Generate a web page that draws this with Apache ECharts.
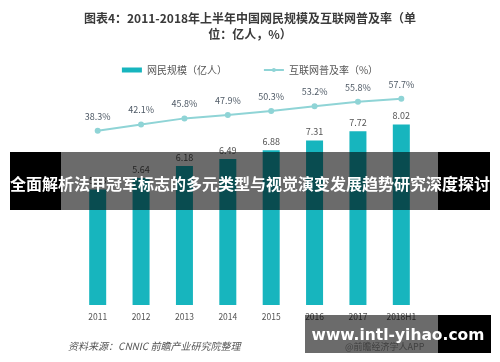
<!DOCTYPE html>
<html>
<head>
<meta charset="utf-8">
<script src="https://cdn.jsdelivr.net/npm/echarts@6/dist/echarts.min.js"></script>
<style>
html,body{margin:0;padding:0;background:#fff;}
#c{width:500px;height:362px;}
</style>
</head>
<body>
<div id="c"></div>
<script>
var categories = ['2011','2012','2013','2014','2015','2016','2017','2018H1'];
var netizens = [5.13, 5.64, 6.18, 6.49, 6.88, 7.31, 7.72, 8.02];
var penetration = [38.3, 42.1, 45.8, 47.9, 50.3, 53.2, 55.8, 57.7];
var seriesNames = ['网民规模（亿人）', '互联网普及率（%）'];
var titleText = '图表4：2011-2018年上半年中国网民规模及互联网普及率（单\n位：亿人，%）';
var bannerText = '全面解析法甲冠军标志的多元类型与视觉演变发展趋势研究深度探讨';
var siteText = 'www.intl-yihao.com';
var sourceText = '资料来源：CNNIC 前瞻产业研究院整理';
var watermarkText = '@前瞻经济学人APP';

var FONT = '"Noto Sans CJK SC", "Noto Sans", sans-serif';
var chart = echarts.init(document.getElementById('c'), null, {renderer: 'canvas'});
chart.setOption({
  backgroundColor: '#ffffff',
  animation: false,
  textStyle: {fontFamily: FONT},
  legend: {
    top: 60,
    left: 'center',
    itemGap: 36,
    itemWidth: 20,
    itemHeight: 5,
    textStyle: {fontSize: 10, color: '#555', fontFamily: FONT},
    data: [
      {name: seriesNames[0], icon: 'rect'},
      {name: seriesNames[1]}
    ]
  },
  grid: {left: 76, right: 77, top: 80, bottom: 57},
  xAxis: {
    type: 'category',
    data: categories,
    axisLine: {show: false},
    axisTick: {show: false},
    axisLabel: {fontSize: 8.5, color: '#555', margin: 8, fontFamily: FONT}
  },
  yAxis: [
    {type: 'value', min: 0, max: 10, show: false, splitLine: {show: false}},
    {type: 'value', min: -67, max: 69, show: false, splitLine: {show: false}}
  ],
  series: [
    {
      name: seriesNames[0],
      type: 'bar',
      data: netizens,
      barWidth: 17,
      itemStyle: {color: '#17b5be'},
      label: {show: true, position: 'top', distance: 4, fontSize: 9, color: '#555', fontFamily: FONT}
    },
    {
      name: seriesNames[1],
      type: 'line',
      yAxisIndex: 1,
      data: penetration,
      symbol: 'circle',
      symbolSize: 6,
      lineStyle: {color: '#8fd4d6', width: 2},
      itemStyle: {color: '#8fd4d6'},
      label: {show: true, position: 'top', distance: 7, fontSize: 9, color: '#4f5a66', fontFamily: FONT,
        formatter: function(p){ return p.value.toFixed(1) + '%'; }}
    }
  ],
  graphic: [
    {type: 'text', x: 250, y: 26, z: 50,
      style: {text: titleText, fill: '#3a3a3a', fontSize: 12, fontWeight: 'bold', fontFamily: FONT,
        lineHeight: 16, align: 'center', verticalAlign: 'middle', textAlign: 'center', textVerticalAlign: 'middle'}},
    {type: 'text', left: 68, top: 341, z: 50,
      style: {text: sourceText, fill: '#555', fontSize: 10, fontStyle: 'italic', fontFamily: FONT}},
    {type: 'text', left: 345, top: 342, z: 50,
      style: {text: watermarkText, fill: '#999', fontSize: 9, fontFamily: FONT}},
    {type: 'rect', shape: {x: 61, y: 152, width: 377, height: 58}, z: 100,
      style: {fill: 'rgba(0,0,0,0.58)'}},
    {type: 'rect', shape: {x: 10, y: 152, width: 51, height: 58}, z: 100,
      style: {fill: '#000'}},
    {type: 'rect', shape: {x: 438, y: 152, width: 52, height: 58}, z: 100,
      style: {fill: '#000'}},
    {type: 'text', x: 250, y: 184, z: 101,
      style: {text: bannerText, fill: '#fff', fontSize: 16, fontWeight: 'bold', fontFamily: FONT,
        textAlign: 'center', textVerticalAlign: 'middle', align: 'center', verticalAlign: 'middle'}},
    {type: 'rect', shape: {x: 305, y: 315, width: 133, height: 38}, z: 100,
      style: {fill: 'rgba(0,0,0,0.58)'}},
    {type: 'rect', shape: {x: 438, y: 315, width: 53, height: 38}, z: 100,
      style: {fill: '#000'}},
    {type: 'text', x: 398, y: 336, z: 101,
      style: {text: siteText, fill: '#fff', fontSize: 15.5, fontWeight: 'bold', fontFamily: '"DejaVu Sans", sans-serif',
        textAlign: 'center', textVerticalAlign: 'middle', align: 'center', verticalAlign: 'middle'}}
  ]
});
</script>
</body>
</html>
